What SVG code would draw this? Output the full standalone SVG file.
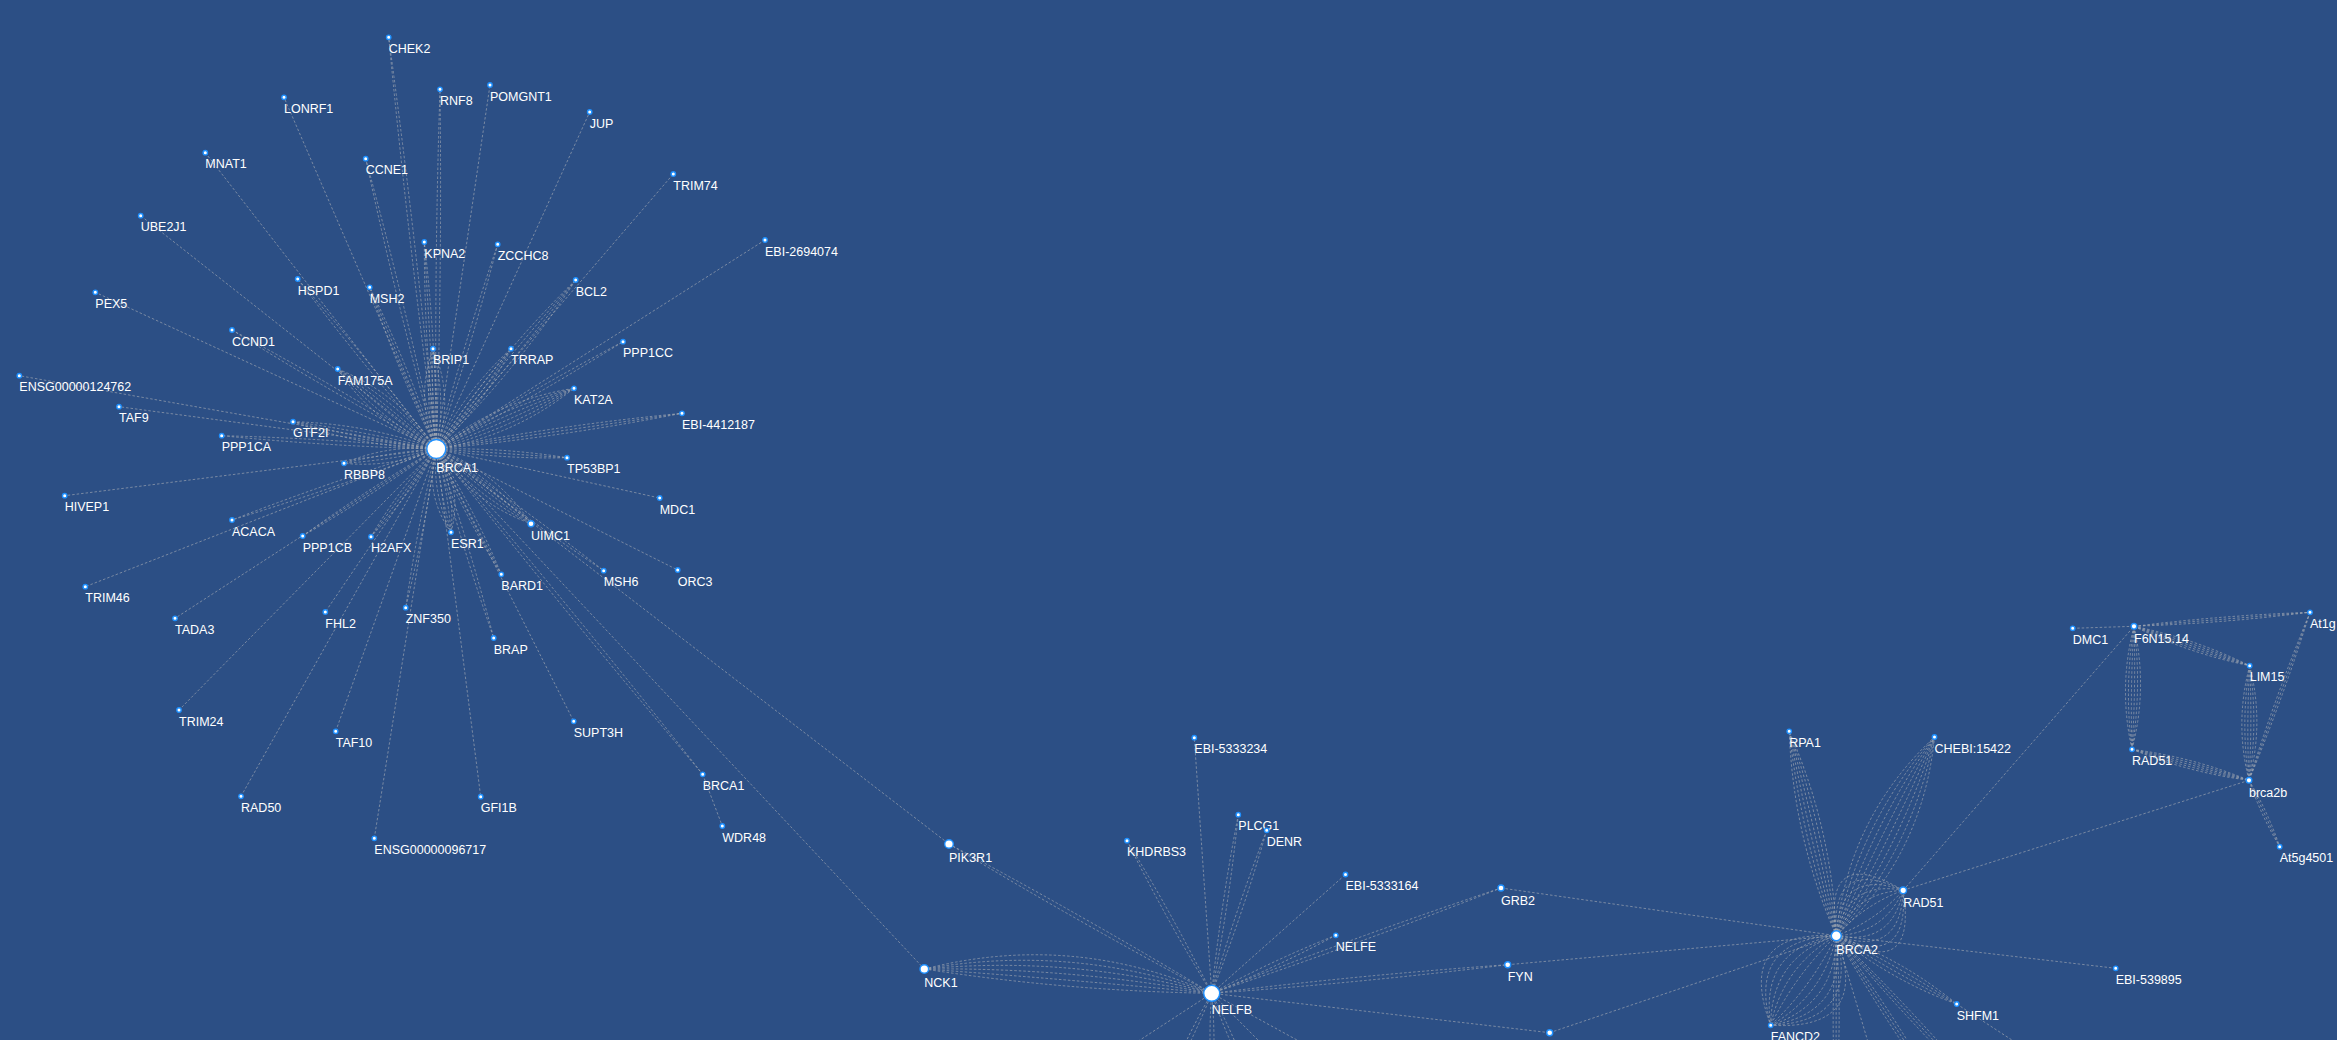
<svg xmlns="http://www.w3.org/2000/svg" xmlns:xlink="http://www.w3.org/1999/xlink" width="2337" height="1040" viewBox="0 0 2337 1040">
<style>
.bg{fill:#2c4f85}
#edges{fill:none;stroke:#a8acb4;stroke-opacity:.62;stroke-width:1;stroke-dasharray:2.5 2}
.n circle{fill:#fff;stroke:#1e90ff;stroke-width:1.4}
.n text{font-family:"Liberation Sans",Arial,Helvetica,sans-serif;font-size:12.5px;fill:#fff}
</style>
<defs>
<g id="s2"><path vector-effect="non-scaling-stroke" d="M0,0Q.5,4 1,0"/><path vector-effect="non-scaling-stroke" d="M0,0Q.5,-4 1,0"/></g>
<g id="s3"><path vector-effect="non-scaling-stroke" d="M0,0L1,0"/><path vector-effect="non-scaling-stroke" d="M0,0Q.5,6 1,0"/><path vector-effect="non-scaling-stroke" d="M0,0Q.5,-6 1,0"/></g>
<g id="s4"><path vector-effect="non-scaling-stroke" d="M0,0Q.5,4 1,0"/><path vector-effect="non-scaling-stroke" d="M0,0Q.5,-4 1,0"/><path vector-effect="non-scaling-stroke" d="M0,0Q.5,12 1,0"/><path vector-effect="non-scaling-stroke" d="M0,0Q.5,-12 1,0"/></g>
<g id="s6"><path vector-effect="non-scaling-stroke" d="M0,0Q.5,4 1,0"/><path vector-effect="non-scaling-stroke" d="M0,0Q.5,-4 1,0"/><path vector-effect="non-scaling-stroke" d="M0,0Q.5,12 1,0"/><path vector-effect="non-scaling-stroke" d="M0,0Q.5,-12 1,0"/><path vector-effect="non-scaling-stroke" d="M0,0Q.5,20 1,0"/><path vector-effect="non-scaling-stroke" d="M0,0Q.5,-20 1,0"/></g>
<g id="w8"><path vector-effect="non-scaling-stroke" d="M0,0Q.5,6 1,0"/><path vector-effect="non-scaling-stroke" d="M0,0Q.5,-6 1,0"/><path vector-effect="non-scaling-stroke" d="M0,0Q.5,18 1,0"/><path vector-effect="non-scaling-stroke" d="M0,0Q.5,-18 1,0"/><path vector-effect="non-scaling-stroke" d="M0,0Q.5,30 1,0"/><path vector-effect="non-scaling-stroke" d="M0,0Q.5,-30 1,0"/><path vector-effect="non-scaling-stroke" d="M0,0Q.5,42 1,0"/><path vector-effect="non-scaling-stroke" d="M0,0Q.5,-42 1,0"/></g>
<g id="lb"><path vector-effect="non-scaling-stroke" d="M0,0Q.5,10 1,0"/><path vector-effect="non-scaling-stroke" d="M0,0Q.5,-10 1,0"/><path vector-effect="non-scaling-stroke" d="M0,0Q.5,25 1,0"/><path vector-effect="non-scaling-stroke" d="M0,0Q.5,-25 1,0"/><path vector-effect="non-scaling-stroke" d="M0,0Q.5,40 1,0"/><path vector-effect="non-scaling-stroke" d="M0,0Q.5,-40 1,0"/><path vector-effect="non-scaling-stroke" d="M0,0Q.5,55 1,0"/><path vector-effect="non-scaling-stroke" d="M0,0Q.5,-55 1,0"/><path vector-effect="non-scaling-stroke" d="M0,0Q.5,70 1,0"/><path vector-effect="non-scaling-stroke" d="M0,0Q.5,-70 1,0"/><path vector-effect="non-scaling-stroke" d="M0,0Q.5,85 1,0"/><path vector-effect="non-scaling-stroke" d="M0,0Q.5,-85 1,0"/></g>
<g id="n3"><path vector-effect="non-scaling-stroke" d="M0,0L1,0"/><path vector-effect="non-scaling-stroke" d="M0,0Q.5,4 1,0"/><path vector-effect="non-scaling-stroke" d="M0,0Q.5,-4 1,0"/></g>
<g id="n5"><path vector-effect="non-scaling-stroke" d="M0,0L1,0"/><path vector-effect="non-scaling-stroke" d="M0,0Q.5,4 1,0"/><path vector-effect="non-scaling-stroke" d="M0,0Q.5,-4 1,0"/><path vector-effect="non-scaling-stroke" d="M0,0Q.5,8 1,0"/><path vector-effect="non-scaling-stroke" d="M0,0Q.5,-8 1,0"/></g>
<g id="n6"><path vector-effect="non-scaling-stroke" d="M0,0Q.5,3 1,0"/><path vector-effect="non-scaling-stroke" d="M0,0Q.5,-3 1,0"/><path vector-effect="non-scaling-stroke" d="M0,0Q.5,9 1,0"/><path vector-effect="non-scaling-stroke" d="M0,0Q.5,-9 1,0"/><path vector-effect="non-scaling-stroke" d="M0,0Q.5,15 1,0"/><path vector-effect="non-scaling-stroke" d="M0,0Q.5,-15 1,0"/></g>
<g id="fan"><path vector-effect="non-scaling-stroke" d="M0,0Q.5,10 1,0"/><path vector-effect="non-scaling-stroke" d="M0,0Q.5,-2 1,0"/><path vector-effect="non-scaling-stroke" d="M0,0Q.5,-14 1,0"/><path vector-effect="non-scaling-stroke" d="M0,0Q.5,-26 1,0"/><path vector-effect="non-scaling-stroke" d="M0,0Q.5,-38 1,0"/><path vector-effect="non-scaling-stroke" d="M0,0Q.5,-50 1,0"/></g>
</defs>
<rect class="bg" x="0" y="0" width="2337" height="1040"/>
<g id="edges">
<use href="#s2" transform="matrix(-47.6 -411.7 .9935 -.1149 436.3 449)"/>
<use href="#s2" transform="matrix(-70.6 -290.3 .9716 -.2363 436.3 449)"/>
<use href="#s2" transform="matrix(3.7 -359.7 1 .0103 436.3 449)"/>
<use href="#s3" transform="matrix(-12 -207 .9985 -.0579 436.3 449)"/>
<use href="#s2" transform="matrix(61.4 -204.7 .9579 .2873 436.3 449)"/>
<use href="#s4" transform="matrix(139.4 -169 .7713 .6362 436.3 449)"/>
<use href="#s2" transform="matrix(-138.6 -170 .7752 -.632 436.3 449)"/>
<use href="#s3" transform="matrix(-66.6 -161.7 .9245 -.3808 436.3 449)"/>
<use href="#s2" transform="matrix(-204.3 -119 .5034 -.8642 436.3 449)"/>
<use href="#s6" transform="matrix(-98.6 -80 .63 -.7764 436.3 449)"/>
<use href="#s6" transform="matrix(-3.3 -100.3 .999 -.0329 436.3 449)"/>
<use href="#s4" transform="matrix(74.7 -100.3 .8018 .5971 436.3 449)"/>
<use href="#s2" transform="matrix(186.7 -107.3 .4984 .8672 436.3 449)"/>
<use href="#s6" transform="matrix(137.7 -60.7 .4033 .915 436.3 449)"/>
<use href="#s3" transform="matrix(245.7 -35.7 .1438 .9895 436.3 449)"/>
<use href="#s4" transform="matrix(-143.3 -27.3 .1871 -.9822 436.3 449)"/>
<use href="#s2" transform="matrix(-214.6 -13.3 .0619 -.9981 436.3 449)"/>
<use href="#s4" transform="matrix(-92.3 14.3 -.1531 -.9882 436.3 449)"/>
<use href="#s2" transform="matrix(-204.3 71 -.3282 -.9445 436.3 449)"/>
<use href="#s2" transform="matrix(-133.6 87 -.5458 -.8381 436.3 449)"/>
<use href="#s3" transform="matrix(-65.3 87.7 -.8024 -.5974 436.3 449)"/>
<use href="#s2" transform="matrix(-30.6 158.7 -.982 -.1894 436.3 449)"/>
<use href="#s3" transform="matrix(130.7 8.7 -.0664 .9977 436.3 449)"/>
<use href="#s6" transform="matrix(94.7 74.7 -.6194 .7852 436.3 449)"/>
<use href="#s6" transform="matrix(14.7 83.3 -.9846 .1738 436.3 449)"/>
<use href="#s3" transform="matrix(65 125.3 -.8874 .4603 436.3 449)"/>
<use href="#s2" transform="matrix(167.4 121.7 -.5879 .8087 436.3 449)"/>
<use href="#s2" transform="matrix(57.4 189 -.957 .2906 436.3 449)"/>
<use href="#s2" transform="matrix(266.4 325.3 -.7736 .6335 436.3 449)"/>
<path d="M436.3 449L284 97.3M436.3 449L205.3 152.7M436.3 449L140.7 215.7M436.3 449L490 85M436.3 449L589.7 112M436.3 449L673.3 174M436.3 449L765 240M436.3 449L95.3 292.3M436.3 449L19.3 375.7M436.3 449L119 406.7M436.3 449L64.7 495.7M436.3 449L85.3 586.7M436.3 449L175 618.3M436.3 449L325.3 612M436.3 449L179 710M436.3 449L335.7 731.3M436.3 449L241 796.3M436.3 449L374.3 838.3M436.3 449L659.7 498M436.3 449L677.7 570M436.3 449L573.7 721.3M436.3 449L480.7 796.7M436.3 449L949 844M436.3 449L924.3 969M702.7 774.3L722.3 826"/>
<use href="#fan" transform="matrix(287.4 24.3 -.0843 .9965 924.3 969)"/>
<use href="#s2" transform="matrix(262.7 149.3 -.494 .8693 949 844)"/>
<use href="#s2" transform="matrix(84.7 152.6 -.8745 .4854 1127 840.7)"/>
<use href="#s2" transform="matrix(-26.6 178.6 -.989 -.1473 1238.3 814.7)"/>
<use href="#s2" transform="matrix(-55 163 -.9477 -.3198 1266.7 830.3)"/>
<use href="#s2" transform="matrix(124 -58 .4237 .9058 1211.7 993.3)"/>
<use href="#s2" transform="matrix(289.3 -105.3 .342 .9396 1211.7 993.3)"/>
<use href="#s2" transform="matrix(296 -28.6 .0962 .9953 1211.7 993.3)"/>
<use href="#s2" transform="matrix(-47.4 97.4 -.8994 -.4377 1211.7 993.3)"/>
<use href="#s2" transform="matrix(.6 93.4 -1 .0064 1211.7 993.3)"/>
<use href="#s2" transform="matrix(40.6 93.4 -.9175 .3988 1211.7 993.3)"/>
<path d="M1211.7 993.3L1194.3 737.7M1211.7 993.3L1345.5 874.5M1211.7 993.3L1549.7 1032.7M1211.7 993.3L1068.3 1086.7M1211.7 993.3L1304.3 1086.7M1211.7 993.3L1382.3 1086.7"/>
<use href="#s6" transform="matrix(-47.1 -204.4 .9743 -.2245 1836.3 935.7)"/>
<use href="#w8" transform="matrix(98.2 -198.7 .8967 .4431 1836.3 935.7)"/>
<use href="#lb" transform="matrix(66.9 -45.4 .5612 .827 1836.3 935.7)"/>
<use href="#lb" transform="matrix(-65.6 89.6 -.8072 -.591 1836.3 935.7)"/>
<use href="#s4" transform="matrix(120.4 68.3 -.4935 .8699 1836.3 935.7)"/>
<use href="#s3" transform="matrix(-.3 164.3 -1 0 1836.3 935.7)"/>
<use href="#s3" transform="matrix(106.2 164.3 -.84 .543 1836.3 935.7)"/>
<use href="#s3" transform="matrix(152.6 164.3 -.7328 .6806 1836.3 935.7)"/>
<path d="M1836.3 935.7L2115.7 968.3M1501 888L1836.3 935.7M1507.7 964.7L1836.3 935.7M1549.7 1032.7L1836.3 935.7M1836.3 935.7L1885.3 1100M1956.7 1004L2073.3 1080"/>
<use href="#n3" transform="matrix(176 -14 .0793 .9966 2134 626.3)"/>
<use href="#n5" transform="matrix(115.7 39.4 -.3224 .9468 2134 626.3)"/>
<use href="#n6" transform="matrix(-2 123 -1 -.0163 2134 626.3)"/>
<use href="#n5" transform="matrix(117 31 -.2562 .9669 2132 749.3)"/>
<use href="#n6" transform="matrix(-.7 114.6 -1 -.0061 2249.7 665.7)"/>
<use href="#n3" transform="matrix(-61 168 -.9401 -.3414 2310 612.3)"/>
<use href="#n3" transform="matrix(30.7 66.4 -.9071 .4194 2249 780.3)"/>
<path d="M2072.7 628.3L2134 626.3M1903.2 890.3L2134 626.3M1903.2 890.3L2249 780.3"/>
</g>
<g id="nodes">
<g class="n" id="n-CHEK2"><circle cx="388.7" cy="37.3" r="2.2"/><text x="388.7" y="53">CHEK2</text></g>
<g class="n" id="n-LONRF1"><circle cx="284" cy="97.3" r="2.2"/><text x="284" y="113">LONRF1</text></g>
<g class="n" id="n-MNAT1"><circle cx="205.3" cy="152.7" r="2.2"/><text x="205.3" y="168.4">MNAT1</text></g>
<g class="n" id="n-UBE2J1"><circle cx="140.7" cy="215.7" r="2.2"/><text x="140.7" y="231.4">UBE2J1</text></g>
<g class="n" id="n-CCNE1"><circle cx="365.7" cy="158.7" r="2.2"/><text x="365.7" y="174.4">CCNE1</text></g>
<g class="n" id="n-RNF8"><circle cx="440" cy="89.3" r="2.2"/><text x="440" y="105">RNF8</text></g>
<g class="n" id="n-POMGNT1"><circle cx="490" cy="85" r="2.2"/><text x="490" y="100.7">POMGNT1</text></g>
<g class="n" id="n-JUP"><circle cx="589.7" cy="112" r="2.2"/><text x="589.7" y="127.7">JUP</text></g>
<g class="n" id="n-TRIM74"><circle cx="673.3" cy="174" r="2.2"/><text x="673.3" y="189.7">TRIM74</text></g>
<g class="n" id="n-EBI-2694074"><circle cx="765" cy="240" r="2.2"/><text x="765" y="255.7">EBI-2694074</text></g>
<g class="n" id="n-KPNA2"><circle cx="424.3" cy="242" r="2.2"/><text x="424.3" y="257.7">KPNA2</text></g>
<g class="n" id="n-ZCCHC8"><circle cx="497.7" cy="244.3" r="2.2"/><text x="497.7" y="260">ZCCHC8</text></g>
<g class="n" id="n-BCL2"><circle cx="575.7" cy="280" r="2.2"/><text x="575.7" y="295.7">BCL2</text></g>
<g class="n" id="n-HSPD1"><circle cx="297.7" cy="279" r="2.2"/><text x="297.7" y="294.7">HSPD1</text></g>
<g class="n" id="n-MSH2"><circle cx="369.7" cy="287.3" r="2.2"/><text x="369.7" y="303">MSH2</text></g>
<g class="n" id="n-PEX5"><circle cx="95.3" cy="292.3" r="2.2"/><text x="95.3" y="308">PEX5</text></g>
<g class="n" id="n-CCND1"><circle cx="232" cy="330" r="2.2"/><text x="232" y="345.7">CCND1</text></g>
<g class="n" id="n-FAM175A"><circle cx="337.7" cy="369" r="2.2"/><text x="337.7" y="384.7">FAM175A</text></g>
<g class="n" id="n-BRIP1"><circle cx="433" cy="348.7" r="2.2"/><text x="433" y="364.4">BRIP1</text></g>
<g class="n" id="n-TRRAP"><circle cx="511" cy="348.7" r="2.2"/><text x="511" y="364.4">TRRAP</text></g>
<g class="n" id="n-PPP1CC"><circle cx="623" cy="341.7" r="2.2"/><text x="623" y="357.4">PPP1CC</text></g>
<g class="n" id="n-KAT2A"><circle cx="574" cy="388.3" r="2.2"/><text x="574" y="404">KAT2A</text></g>
<g class="n" id="n-EBI-4412187"><circle cx="682" cy="413.3" r="2.2"/><text x="682" y="429">EBI-4412187</text></g>
<g class="n" id="n-ENSG00000124762"><circle cx="19.3" cy="375.7" r="2.2"/><text x="19.3" y="391.4">ENSG00000124762</text></g>
<g class="n" id="n-TAF9"><circle cx="119" cy="406.7" r="2.2"/><text x="119" y="422.4">TAF9</text></g>
<g class="n" id="n-GTF2I"><circle cx="293" cy="421.7" r="2.2"/><text x="293" y="437.4">GTF2I</text></g>
<g class="n" id="n-PPP1CA"><circle cx="221.7" cy="435.7" r="2.2"/><text x="221.7" y="451.4">PPP1CA</text></g>
<g class="n" id="n-RBBP8"><circle cx="344" cy="463.3" r="2.2"/><text x="344" y="479">RBBP8</text></g>
<g class="n" id="n-HIVEP1"><circle cx="64.7" cy="495.7" r="2.2"/><text x="64.7" y="511.4">HIVEP1</text></g>
<g class="n" id="n-ACACA"><circle cx="232" cy="520" r="2.2"/><text x="232" y="535.7">ACACA</text></g>
<g class="n" id="n-PPP1CB"><circle cx="302.7" cy="536" r="2.2"/><text x="302.7" y="551.7">PPP1CB</text></g>
<g class="n" id="n-H2AFX"><circle cx="371" cy="536.7" r="2.2"/><text x="371" y="552.4">H2AFX</text></g>
<g class="n" id="n-TRIM46"><circle cx="85.3" cy="586.7" r="2.2"/><text x="85.3" y="602.4">TRIM46</text></g>
<g class="n" id="n-TADA3"><circle cx="175" cy="618.3" r="2.2"/><text x="175" y="634">TADA3</text></g>
<g class="n" id="n-FHL2"><circle cx="325.3" cy="612" r="2.2"/><text x="325.3" y="627.7">FHL2</text></g>
<g class="n" id="n-ZNF350"><circle cx="405.7" cy="607.7" r="2.2"/><text x="405.7" y="623.4">ZNF350</text></g>
<g class="n" id="n-TRIM24"><circle cx="179" cy="710" r="2.2"/><text x="179" y="725.7">TRIM24</text></g>
<g class="n" id="n-TAF10"><circle cx="335.7" cy="731.3" r="2.2"/><text x="335.7" y="747">TAF10</text></g>
<g class="n" id="n-RAD50"><circle cx="241" cy="796.3" r="2.2"/><text x="241" y="812">RAD50</text></g>
<g class="n" id="n-ENSG00000096717"><circle cx="374.3" cy="838.3" r="2.2"/><text x="374.3" y="854">ENSG00000096717</text></g>
<g class="n" id="n-TP53BP1"><circle cx="567" cy="457.7" r="2.2"/><text x="567" y="473.4">TP53BP1</text></g>
<g class="n" id="n-MDC1"><circle cx="659.7" cy="498" r="2.2"/><text x="659.7" y="513.7">MDC1</text></g>
<g class="n" id="n-UIMC1"><circle cx="531" cy="523.7" r="3"/><text x="531" y="540.2">UIMC1</text></g>
<g class="n" id="n-ESR1"><circle cx="451" cy="532.3" r="2.2"/><text x="451" y="548">ESR1</text></g>
<g class="n" id="n-BARD1"><circle cx="501.3" cy="574.3" r="2.2"/><text x="501.3" y="590">BARD1</text></g>
<g class="n" id="n-MSH6"><circle cx="603.7" cy="570.7" r="2.2"/><text x="603.7" y="586.4">MSH6</text></g>
<g class="n" id="n-ORC3"><circle cx="677.7" cy="570" r="2.2"/><text x="677.7" y="585.7">ORC3</text></g>
<g class="n" id="n-BRAP"><circle cx="493.7" cy="638" r="2.2"/><text x="493.7" y="653.7">BRAP</text></g>
<g class="n" id="n-SUPT3H"><circle cx="573.7" cy="721.3" r="2.2"/><text x="573.7" y="737">SUPT3H</text></g>
<g class="n" id="n-BRCA1-2"><circle cx="702.7" cy="774.3" r="2.2"/><text x="702.7" y="790">BRCA1</text></g>
<g class="n" id="n-GFI1B"><circle cx="480.7" cy="796.7" r="2.2"/><text x="480.7" y="812.4">GFI1B</text></g>
<g class="n" id="n-WDR48"><circle cx="722.3" cy="826" r="2.2"/><text x="722.3" y="841.7">WDR48</text></g>
<g class="n" id="n-BRCA1"><circle cx="436.3" cy="449" r="9.5"/><text x="436.3" y="472">BRCA1</text></g>
<g class="n" id="n-PIK3R1"><circle cx="949" cy="844" r="4.3"/><text x="949" y="861.8">PIK3R1</text></g>
<g class="n" id="n-NCK1"><circle cx="924.3" cy="969" r="4.3"/><text x="924.3" y="986.8">NCK1</text></g>
<g class="n" id="n-EBI-5333234"><circle cx="1194.3" cy="737.7" r="2.2"/><text x="1194.3" y="753.4">EBI-5333234</text></g>
<g class="n" id="n-PLCG1"><circle cx="1238.3" cy="814.7" r="2.2"/><text x="1238.3" y="830.4">PLCG1</text></g>
<g class="n" id="n-DENR"><circle cx="1266.7" cy="830.3" r="2.2"/><text x="1266.7" y="846">DENR</text></g>
<g class="n" id="n-KHDRBS3"><circle cx="1127" cy="840.7" r="2.2"/><text x="1127" y="856.4">KHDRBS3</text></g>
<g class="n" id="n-EBI-5333164"><circle cx="1345.5" cy="874.5" r="2.2"/><text x="1345.5" y="890.2">EBI-5333164</text></g>
<g class="n" id="n-NELFE"><circle cx="1335.8" cy="935.3" r="2.2"/><text x="1335.8" y="951">NELFE</text></g>
<g class="n" id="n-NELFB"><circle cx="1211.7" cy="993.3" r="8"/><text x="1211.7" y="1014">NELFB</text></g>
<g class="n" id="n-GRB2"><circle cx="1501" cy="888" r="3"/><text x="1501" y="904.5">GRB2</text></g>
<g class="n" id="n-FYN"><circle cx="1507.7" cy="964.7" r="3"/><text x="1507.7" y="981.2">FYN</text></g>
<g class="n" id="n-U1"><circle cx="1549.7" cy="1032.7" r="3"/></g>
<g class="n" id="n-RPA1"><circle cx="1789.2" cy="731.3" r="2.2"/><text x="1789.2" y="747">RPA1</text></g>
<g class="n" id="n-CHEBI15422"><circle cx="1934.5" cy="737" r="2.2"/><text x="1934.5" y="752.7">CHEBI:15422</text></g>
<g class="n" id="n-RAD51"><circle cx="1903.2" cy="890.3" r="3.3"/><text x="1903.2" y="907.1">RAD51</text></g>
<g class="n" id="n-BRCA2"><circle cx="1836.3" cy="935.7" r="5"/><text x="1836.3" y="954.2">BRCA2</text></g>
<g class="n" id="n-EBI-539895"><circle cx="2115.7" cy="968.3" r="2.2"/><text x="2115.7" y="984">EBI-539895</text></g>
<g class="n" id="n-SHFM1"><circle cx="1956.7" cy="1004" r="2.2"/><text x="1956.7" y="1019.7">SHFM1</text></g>
<g class="n" id="n-FANCD2"><circle cx="1770.7" cy="1025.3" r="2.2"/><text x="1770.7" y="1041">FANCD2</text></g>
<g class="n" id="n-DMC1"><circle cx="2072.7" cy="628.3" r="2.2"/><text x="2072.7" y="644">DMC1</text></g>
<g class="n" id="n-F6N15.14"><circle cx="2134" cy="626.3" r="2.8"/><text x="2134" y="642.6">F6N15.14</text></g>
<g class="n" id="n-At1g"><circle cx="2310" cy="612.3" r="2.2"/><text x="2310" y="628">At1g</text></g>
<g class="n" id="n-LIM15"><circle cx="2249.7" cy="665.7" r="2.2"/><text x="2249.7" y="681.4">LIM15</text></g>
<g class="n" id="n-RAD51-2"><circle cx="2132" cy="749.3" r="2.2"/><text x="2132" y="765">RAD51</text></g>
<g class="n" id="n-brca2b"><circle cx="2249" cy="780.3" r="2.8"/><text x="2249" y="796.6">brca2b</text></g>
<g class="n" id="n-At5g"><circle cx="2279.7" cy="846.7" r="2.2"/><text x="2279.7" y="862.4">At5g4501</text></g>
</g>
</svg>
